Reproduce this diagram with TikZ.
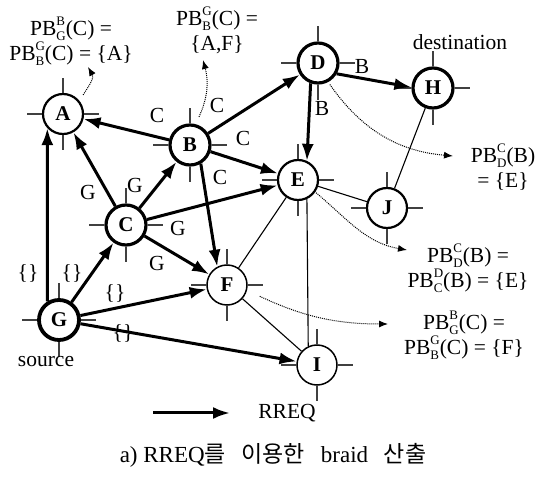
\documentclass[tikz,border=0pt]{standalone}
\usepackage{fontspec}
\setmainfont{Liberation Serif}
\newfontfamily\krfont{Noto Sans CJK KR}
\usetikzlibrary{arrows.meta}
\newcommand\SUBSUP[2]{\setbox0\hbox{\raisebox{-5pt}{\fontsize{13}{13}\selectfont #1}}\setbox2\hbox{\raisebox{10pt}{\fontsize{13}{13}\selectfont #2}}\ifdim\wd0>\wd2 \rlap{\box2}\box0 \else\rlap{\box0}\box2 \fi}
\newcommand\PBT[3]{PB\SUBSUP{#1}{#2}(#3)}
\tikzset{
 nd/.style={circle, draw, minimum size=40pt, inner sep=0pt, font=\fontsize{21}{21}\selectfont\bfseries},
 thk/.style={nd, line width=3.2pt},
 med/.style={nd, line width=2.2pt},
 thn/.style={nd, line width=1.5pt},
 tick/.style={line width=1.3pt, black!75},
 rreq/.style={line width=3pt, -{Latex[length=17pt,width=12pt]}},
 link/.style={line width=1.1pt},
 pbar/.style={densely dotted, line width=1pt, -{Latex[length=9pt,width=7pt]}},
 lbl/.style={font=\fontsize{21.5}{21.5}\selectfont, inner sep=1pt},
 txt/.style={font=\fontsize{21.5}{25}\selectfont, align=center, inner sep=0pt},
}
\begin{document}
\begin{tikzpicture}[x=1pt,y=-1pt]
\useasboundingbox (0,0) rectangle (542,481);
\node[med] (A) at (63,114) {A};
\node[thk] (B) at (190,145) {B};
\node[thk] (C) at (126,225) {C};
\node[thk] (D) at (318,63) {D};
\node[med] (E) at (298,180) {E};
\node[thn] (F) at (227,285) {F};
\node[thk, line width=3.8pt] (G) at (59,320) {G};
\node[thk] (H) at (433,88) {H};
\node[thn] (I) at (317,365) {I};
\node[med] (J) at (387,208) {J};
\foreach \n in {A,B,C,D,E,F,G,H,I,J} \foreach \a in {0,90,180,270} \draw[tick] (\n.\a) -- ++(\a:15pt);
% thin links
\draw[link] (H) -- (J);
\draw[link] (E) -- (J);
\draw[link] (E.-65) -- (I.115);
\draw[link] (F) -- (E);
\draw[link] (F) -- (I);
% RREQ arrows
\draw[rreq] (B) -- (A);
\draw[rreq] (B) -- (D);
\draw[rreq] (B) -- (E);
\draw[rreq] (B.-60) -- (F.118);
\draw[rreq] (D.-30) -- (H.178);
\draw[rreq] (D.-110) -- (E.65);
\draw[rreq] (C) -- (A);
\draw[rreq] (C) -- (B);
\draw[rreq] (C) -- (E);
\draw[rreq] (C) -- (F);
\draw[rreq] (G.122) -- (A.-138);
\draw[rreq] (G) -- (C);
\draw[rreq] (G) -- (F);
\draw[rreq] (G) -- (I);
% edge labels
\node[lbl] at (157,115) {C};
\node[lbl] at (217,105) {C};
\node[lbl] at (243,138) {C};
\node[lbl] at (220,177) {C};
\node[lbl] at (362,66) {B};
\node[lbl] at (322,108) {B};
\node[lbl] at (88,192) {G};
\node[lbl] at (135,185) {G};
\node[lbl] at (178,228) {G};
\node[lbl] at (157,263) {G};
\node[lbl] at (28,273) {\{\}};
\node[lbl] at (72,273) {\{\}};
\node[lbl] at (115,293) {\{\}};
\node[lbl] at (123,333) {\{\}};
% texts
\node[txt] (T1) at (71,41) {\PBT{G}{B}{C} =\\\PBT{B}{G}{C} = \{A\}};
\node[txt] (T2) at (217,30) {\PBT{B}{G}{C} =\\\{A,F\}};
\node[txt] (T3) at (503,167) {\PBT{D}{C}{B}\\= \{E\}};
\node[txt] (T4) at (468,268) {\PBT{D}{C}{B} =\\\PBT{C}{D}{B} = \{E\}};
\node[txt] (T5) at (464,335) {\PBT{G}{B}{C} =\\\PBT{B}{G}{C} = \{F\}};
\node[lbl] (dst) at (460,42) {destination};
\node[lbl] (src) at (46,362) {source};
% dotted pointers
\coordinate (pa) at (88,67);
\coordinate (pb) at (203,60);
\coordinate (pd) at (453,156);
\coordinate (pe) at (407,250);
\coordinate (pf) at (388,324);
\draw[pbar, shorten <=7pt] (A.38) to[out=60,in=-60] (pa);
\draw[pbar, shorten <=8pt] (B.75) to[out=65,in=-75] (pb);
\draw[pbar, shorten <=3pt] (D.-62) to[out=-55,in=175] (pd);
\draw[pbar, shorten <=1pt] (E.-35) to[out=-40,in=170] (pe);
\draw[pbar, shorten <=14pt] (F.-15) to[out=-25,in=180] (pf);
% legend
\coordinate (L1) at (153,413);
\coordinate (L2) at (230,413);
\draw[rreq] (L1) -- (L2);
\node[lbl] (leg) at (287,413) {RREQ};
\node[font=\fontsize{23}{23}\selectfont, inner sep=1pt] (cap) at (273,455) {a) RREQ{\krfont 를}\hspace{10pt} {\krfont 이용한}\hspace{10pt} braid\hspace{10pt} {\krfont 산출}};
\end{tikzpicture}
\end{document}
